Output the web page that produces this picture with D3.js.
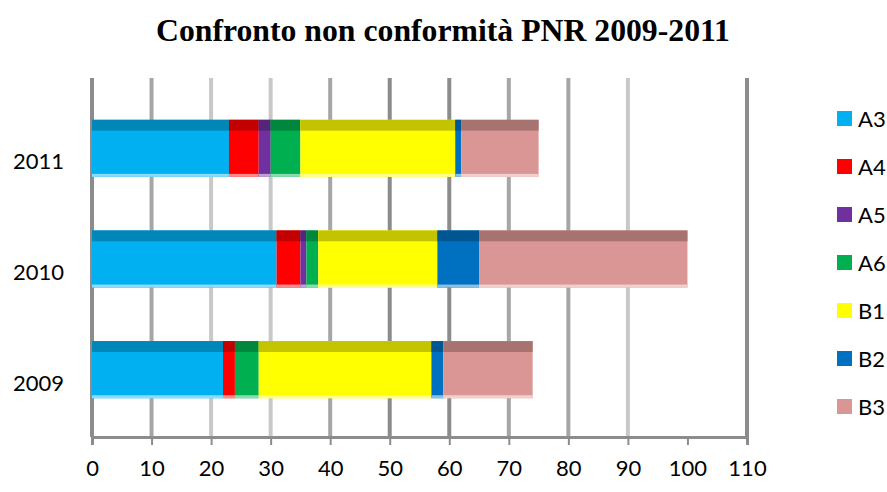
<!DOCTYPE html>
<html>
<head>
    <meta charset="utf-8">
    <title>Confronto non conformità PNR 2009-2011</title>
    <script src="https://d3js.org/d3.v7.min.js"></script>
    <style>
        body { margin: 0; background: #fff; }
        svg { display: block; }
        .title { font-family: "Liberation Serif", "Times New Roman", serif; font-weight: bold; font-size: 31px; }
        .lbl { font-family: Lato, "Liberation Sans", sans-serif; font-size: 22px; fill: #000; }
    </style>
</head>
<body>
<svg id="chart" width="887" height="492"></svg>
<script>
// dati
const years = ["2011", "2010", "2009"];
const series = ["A3", "A4", "A5", "A6", "B1", "B2", "B3"];
const colors = ["#00B0F0", "#FF0000", "#7030A0", "#00B050", "#FFFF00", "#0070C0", "#DA9694"];
const v2011 = [23, 5, 2, 5, 26, 1, 13];
const v2010 = [31, 4, 1, 2, 20, 7, 35];
const v2009 = [22, 2, 0, 4, 29, 2, 15];
const xTicks = [0, 10, 20, 30, 40, 50, 60, 70, 80, 90, 100, 110];
// tonalità delle linee della griglia (come nell'originale)
const gridShade = ["#8c8c8c", "#a6a6a6", "#c8c8c8", "#c8c8c8", "#a6a6a6", "#8c8c8c", "#8c8c8c", "#a6a6a6", "#a6a6a6", "#c8c8c8", null, "#8c8c8c"];

const values = { "2011": v2011, "2010": v2010, "2009": v2009 };
const rows = years.map(y => {
    const r = { year: y };
    series.forEach((s, i) => r[s] = values[y][i]);
    return r;
});

const svg = d3.select("#chart");
const x = d3.scaleLinear().domain([0, 110]).range([92, 747]);
const y = d3.scaleBand().domain(years).range([93, 425]).paddingInner(0.484).paddingOuter(0.242);
const color = d3.scaleOrdinal().domain(series).range(colors);

svg.append("text").attr("class", "title")
    .attr("x", 443).attr("y", 41).attr("text-anchor", "middle")
    .attr("textLength", 574).attr("lengthAdjust", "spacingAndGlyphs")
    .text("Confronto non conformità PNR 2009-2011");

// griglia
svg.append("g").selectAll("line")
    .data(xTicks.map((t, i) => ({ t, c: gridShade[i] })).filter(d => d.c))
    .join("line")
    .attr("x1", d => x(d.t)).attr("x2", d => x(d.t))
    .attr("y1", 78).attr("y2", 437)
    .attr("stroke", d => d.c).attr("stroke-width", 4);

// barre impilate
const stack = d3.stack().keys(series)(rows);
const layers = svg.append("g").selectAll("g").data(stack).join("g");
layers.each(function(layer) {
    const base = color(layer.key);
    const dark = d3.color(base).darker(0.75);
    const light = d3.interpolateRgb(base, "#fff")(0.55);
    const g = d3.select(this);
    const segs = layer.filter(d => d[1] > d[0]);
    g.selectAll("rect.main").data(segs).join("rect").attr("class", "main")
        .attr("x", d => x(d[0])).attr("width", d => x(d[1]) - x(d[0]))
        .attr("y", d => y(d.data.year)).attr("height", y.bandwidth())
        .attr("fill", base);
    g.selectAll("rect.top").data(segs).join("rect").attr("class", "top")
        .attr("x", d => x(d[0])).attr("width", d => x(d[1]) - x(d[0]))
        .attr("y", d => y(d.data.year)).attr("height", y.bandwidth() * 0.19)
        .attr("fill", dark);
    g.selectAll("rect.bot").data(segs).join("rect").attr("class", "bot")
        .attr("x", d => x(d[0])).attr("width", d => x(d[1]) - x(d[0]))
        .attr("y", d => y(d.data.year) + y.bandwidth() - 3).attr("height", 3)
        .attr("fill", light);
});

// asse x
const xAxis = svg.append("g").attr("transform", "translate(0,437)")
    .call(d3.axisBottom(x).tickValues(xTicks).tickSize(8).tickPadding(15));
xAxis.select(".domain").attr("stroke", "#8c8c8c").attr("stroke-width", 3);
xAxis.selectAll(".tick line").attr("stroke", "#8c8c8c").attr("stroke-width", 2);
xAxis.selectAll(".tick text").attr("class", "lbl").attr("fill", "#000").style("font-size", "22px");

// etichette anni
svg.append("g").selectAll("text").data(years).join("text").attr("class", "lbl")
    .attr("x", 64).attr("text-anchor", "end")
    .attr("y", d => y(d) + y.bandwidth() / 2 + 21)
    .text(d => d);

// legenda
const leg = svg.append("g").selectAll("g").data(series).join("g")
    .attr("transform", (d, i) => `translate(837,${111 + i * 48})`);
leg.append("rect").attr("width", 15).attr("height", 15).attr("fill", d => color(d));
leg.append("text").attr("class", "lbl").attr("x", 21).attr("y", 16).text(d => d);
</script>
</body>
</html>
